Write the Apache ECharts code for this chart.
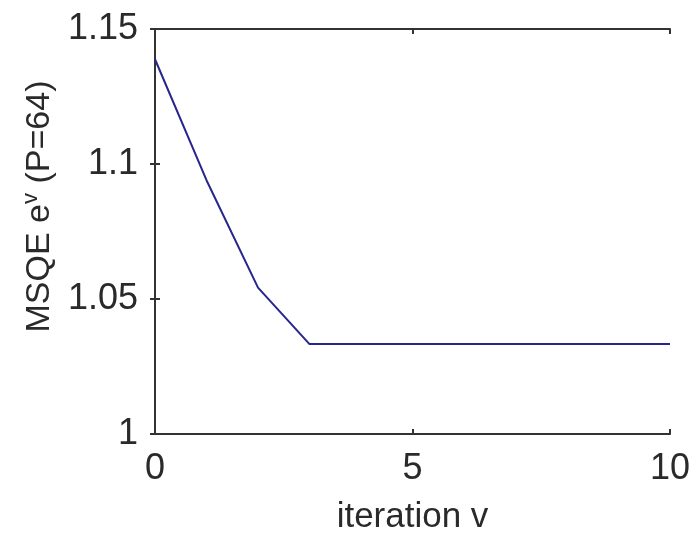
<!DOCTYPE html>
<html>
<head>
<meta charset="utf-8">
<script src="https://cdn.jsdelivr.net/npm/echarts@6/dist/echarts.min.js"></script>
<style>
  html, body { margin: 0; padding: 0; background: #fff; }
  #chart { width: 694px; height: 533px; }
</style>
</head>
<body>
<div id="chart"></div>
<script>
// iterations and MSQE values
var iterations = [0, 1, 2, 3, 4, 5, 6, 7, 8, 9, 10];
var msqe = [1.1388, 1.094, 1.0542, 1.0333, 1.0333, 1.0333, 1.0333, 1.0333, 1.0333, 1.0333, 1.0333];
var xTicks = [0, 5, 10];
var yTicks = [1, 1.05, 1.1, 1.15];

var font = 'Liberation Sans, Arial, sans-serif';
var ink = '#2a2a2a';

var points = iterations.map(function (x, i) { return [x, msqe[i]]; });

var chart = echarts.init(document.getElementById('chart'));
chart.setOption({
  backgroundColor: '#fff',
  animation: false,
  grid: { left: 155, right: 24, top: 29, bottom: 99, outerBoundsMode: 'none' },
  xAxis: [{
    type: 'value', min: 0, max: 10, interval: 5,
    name: 'iteration v', nameLocation: 'middle', nameGap: 66,
    nameTextStyle: { fontFamily: font, fontSize: 35, color: ink },
    axisLine: { show: true, lineStyle: { color: '#333', width: 2 } },
    axisTick: { show: true, inside: true, length: 5, lineStyle: { color: '#333', width: 2 } },
    axisLabel: { margin: 17, fontFamily: font, fontSize: 36, color: ink,
      formatter: function (v) { return xTicks.indexOf(v) >= 0 ? String(v) : ''; } },
    splitLine: { show: false }
  }, {
    type: 'value', min: 0, max: 10, interval: 5, position: 'top',
    axisLine: { show: true, lineStyle: { color: '#333', width: 2 } },
    axisTick: { show: true, inside: true, length: 5, lineStyle: { color: '#333', width: 2 } },
    axisLabel: { show: false }, splitLine: { show: false }
  }],
  yAxis: [{
    type: 'value', min: 1, max: 1.15, interval: 0.05,
    name: '{m|MSQE e}{s|v}{m| (P=64)}', nameLocation: 'middle', nameGap: 92,
    nameTextStyle: {
      padding: [0, 0, 0, 50],
      rich: {
        m: { fontFamily: font, fontSize: 34, color: ink },
        s: { fontFamily: font, fontSize: 22, color: ink, padding: [0, 0, 18, 0] }
      }
    },
    axisLine: { show: true, lineStyle: { color: '#333', width: 2 } },
    axisTick: { show: true, inside: true, length: 5, lineStyle: { color: '#333', width: 2 } },
    axisLabel: { margin: 17, fontFamily: font, fontSize: 36, color: ink,
      formatter: function (v) {
        var r = Math.round(v * 100) / 100;
        return yTicks.indexOf(r) >= 0 ? String(r) : '';
      } },
    splitLine: { show: false }
  }, {
    type: 'value', min: 1, max: 1.15, interval: 0.05, position: 'right',
    axisLine: { show: true, lineStyle: { color: '#333', width: 2 } },
    axisTick: { show: true, inside: true, length: 5, lineStyle: { color: '#333', width: 2 } },
    axisLabel: { show: false }, splitLine: { show: false }
  }],
  series: [{
    type: 'line',
    data: points,
    showSymbol: false,
    lineStyle: { color: '#26268c', width: 2 }
  }]
});
</script>
</body>
</html>
